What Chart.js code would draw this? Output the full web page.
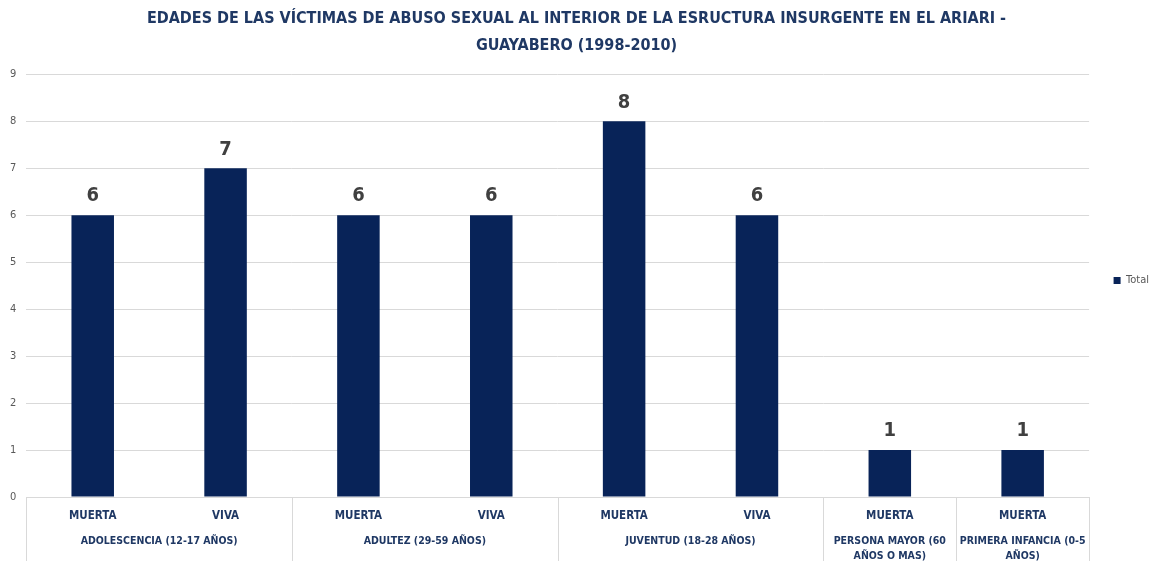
<!DOCTYPE html>
<html>
<head>
<meta charset="utf-8">
<script src="https://cdn.jsdelivr.net/npm/chart.js@4.4.1/dist/chart.umd.min.js"></script>
<style>
  html, body { margin: 0; padding: 0; background: #fff; }
  #wrap { width: 1153px; height: 561px; }
</style>
</head>
<body>
<div id="wrap"><canvas id="chart" width="1153" height="561"></canvas></div>
<script>
// data
var subLabels = ['MUERTA', 'VIVA', 'MUERTA', 'VIVA', 'MUERTA', 'VIVA', 'MUERTA', 'MUERTA'];
var groupLabels = [
    ['ADOLESCENCIA (12-17 AÑOS)'],
    ['ADULTEZ (29-59 AÑOS)'],
    ['JUVENTUD (18-28 AÑOS)'],
    ['PERSONA MAYOR (60', 'AÑOS O MAS)'],
    ['PRIMERA INFANCIA (0-5', 'AÑOS)']
];
var groupSizes = [2, 2, 2, 1, 1];
var totals = [6, 7, 6, 6, 8, 6, 1, 1];
var yTicks = [0, 1, 2, 3, 4, 5, 6, 7, 8, 9];

var navy = '#082358';
var textNavy = '#1f3864';
var gridColor = '#d9d9d9';
var fontFamily = "'Liberation Sans Narrow', 'DejaVu Sans Condensed', 'Liberation Sans', sans-serif";

// group labels + separators under the x axis
var groupPlugin = {
    id: 'groups',
    afterDraw: function (chart) {
        var x = chart.scales.x;
        var ctx = chart.ctx;
        var top = chart.chartArea.bottom;
        var bottom = x.bottom;
        var start = 0;
        ctx.save();
        ctx.strokeStyle = gridColor;
        ctx.lineWidth = 1;
        ctx.fillStyle = textNavy;
        ctx.font = 'bold 10.5px ' + fontFamily;
        ctx.textAlign = 'center';
        ctx.textBaseline = 'middle';
        groupSizes.forEach(function (size, gi) {
            var left = x.getPixelForValue(start - 0.5);
            var right = x.getPixelForValue(start + size - 0.5);
            [left, right].forEach(function (px) {
                px = Math.round(px) + 0.5;
                ctx.beginPath();
                ctx.moveTo(px, top);
                ctx.lineTo(px, bottom);
                ctx.stroke();
            });
            var lines = groupLabels[gi];
            lines.forEach(function (line, li) {
                ctx.fillText(line, (left + right) / 2, top + 44 + li * 15);
            });
            start += size;
        });
        ctx.restore();
    }
};

// value labels above bars
var valuePlugin = {
    id: 'values',
    afterDatasetsDraw: function (chart) {
        var ctx = chart.ctx;
        var meta = chart.getDatasetMeta(0);
        ctx.save();
        ctx.fillStyle = '#404040';
        ctx.font = 'bold 20px ' + fontFamily;
        ctx.textAlign = 'center';
        ctx.textBaseline = 'bottom';
        meta.data.forEach(function (bar, i) {
            ctx.fillText(totals[i], bar.x, bar.y - 9);
        });
        ctx.restore();
    }
};

// push legend a bit further right, like the original
var legendShift = {
    id: 'legendShift',
    afterLayout: function (chart) {
        chart.legend.left += 6;
        chart.legend.right += 6;
    }
};

var ctx = document.getElementById('chart');
var chart = new Chart(ctx, {
    type: 'bar',
    data: {
        labels: subLabels,
        datasets: [{
            label: 'Total',
            data: totals,
            backgroundColor: navy,
            barPercentage: 0.32,
            categoryPercentage: 1
        }]
    },
    options: {
        responsive: false,
        animation: false,
        layout: { padding: { left: 0, right: 0, top: 0, bottom: 0 } },
        plugins: {
            title: {
                display: true,
                text: ['EDADES DE LAS VÍCTIMAS DE ABUSO SEXUAL AL INTERIOR DE LA ESRUCTURA INSURGENTE EN EL ARIARI -', 'GUAYABERO (1998-2010)'],
                color: textNavy,
                font: { family: fontFamily, size: 16, weight: 'bold', lineHeight: 1.7 },
                padding: { top: 5, bottom: 15 }
            },
            legend: {
                position: 'right',
                labels: {
                    boxWidth: 7,
                    boxHeight: 7,
                    color: '#595959',
                    font: { family: fontFamily, size: 11 },
                    padding: 18.5
                }
            },
            tooltip: { enabled: false }
        },
        scales: {
            x: {
                grid: { display: false, drawTicks: false },
                border: { display: true, color: gridColor },
                ticks: {
                    color: textNavy,
                    font: { family: fontFamily, size: 11.5, weight: 'bold' },
                    padding: 12,
                    maxRotation: 0
                },
                afterFit: function (scale) { scale.height = 64; }
            },
            y: {
                min: 0,
                max: 9,
                afterBuildTicks: function (scale) {
                    scale.ticks = yTicks.map(function (v) { return { value: v }; });
                },
                grid: { color: gridColor, drawTicks: false },
                border: { display: false },
                ticks: {
                    color: '#595959',
                    font: { family: fontFamily, size: 11 },
                    padding: 10
                }
            }
        }
    },
    plugins: [groupPlugin, valuePlugin, legendShift]
});
</script>
</body>
</html>
